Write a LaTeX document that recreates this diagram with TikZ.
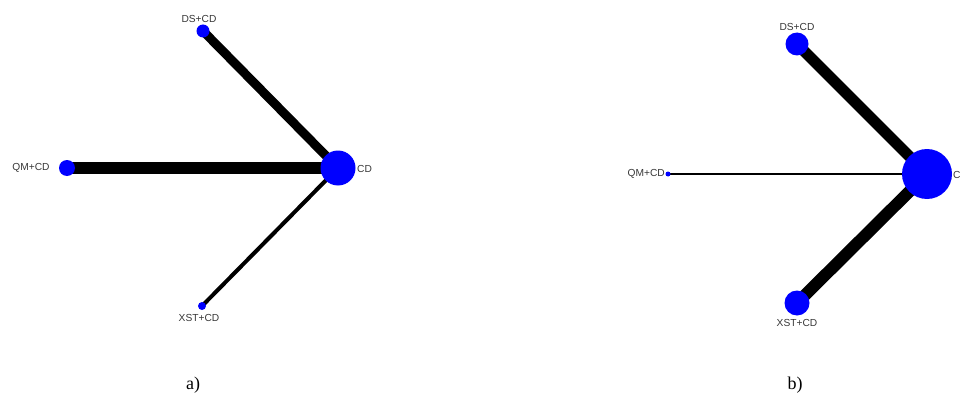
\documentclass[tikz,border=0pt]{standalone}
\usepackage{fontspec}
\setmainfont{Liberation Serif}
\newfontfamily\lblfont{Liberation Sans}
\usetikzlibrary{backgrounds}
\definecolor{nodeblue}{RGB}{0,0,255}
\definecolor{lblgray}{RGB}{55,55,55}
\tikzset{
  trt/.style={circle, fill=nodeblue, draw=none, inner sep=0pt, minimum size=#1},
  lbl/.style={font=\lblfont\fontsize{10.2}{11}\selectfont, text=lblgray, inner sep=0pt},
  linkw/.style={line width=#1, draw=black},
  panelcap/.style={font=\fontsize{18}{20}\selectfont, inner sep=0pt}
}
\begin{document}
\begin{tikzpicture}[x=1pt,y=-1pt]
\useasboundingbox (0,0) rectangle (962,396);
% panel a
\node[trt=13pt] (aDS) at (203,31) {};
\node[trt=16pt] (aQM) at (67,168) {};
\node[trt=35pt] (aCD) at (338,168) {};
\node[trt=8pt]  (aXST) at (202,306) {};
\node[lbl] (aDSl) at (199,19) {DS+CD};
\node[lbl] (aQMl) at (31,168) {QM+CD};
\node[lbl,anchor=west] (aCDl) at (357,169) {CD};
\node[lbl] (aXSTl) at (199,318) {XST+CD};
\begin{scope}[on background layer]
\draw[linkw=9pt] (aDS.center) -- (aCD.center);
\draw[linkw=11.5pt] (aQM.center) -- (aCD.center);
\draw[linkw=4pt] (aXST.center) -- (aCD.center);
\end{scope}
\node[panelcap] (capa) at (193,385) {a)};
% panel b
\node[trt=23pt] (bDS) at (797,44) {};
\node[trt=5pt]  (bQM) at (668,174) {};
\node[trt=50pt] (bCD) at (927,174) {};
\node[trt=25pt] (bXST) at (797,303) {};
\node[lbl] (bDSl) at (797,27) {DS+CD};
\node[lbl,anchor=east] (bQMl) at (665,174) {QM+CD};
\node[lbl,anchor=west] (bCDl) at (953,175) {C};
\node[lbl] (bXSTl) at (797,323) {XST+CD};
\begin{scope}[on background layer]
\draw[linkw=11pt] (bDS.center) -- (bCD.center);
\draw[linkw=1.3pt] (bQM.center) -- (bCD.center);
\draw[linkw=12pt] (bXST.center) -- (bCD.center);
\end{scope}
\node[panelcap] (capb) at (795,385) {b)};
\end{tikzpicture}
\end{document}
